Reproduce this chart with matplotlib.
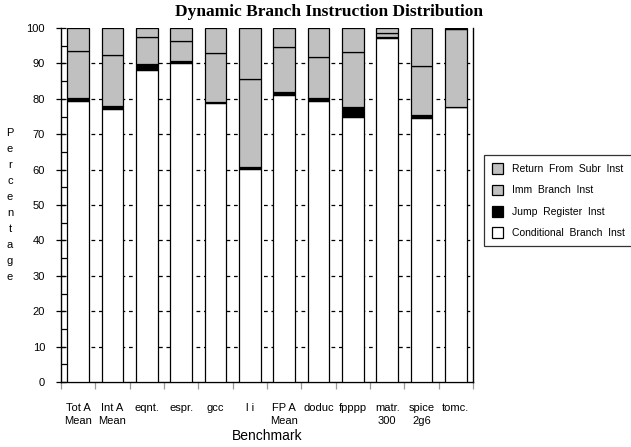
import matplotlib
matplotlib.use("Agg")
import matplotlib.pyplot as plt
import numpy as np
from matplotlib.ticker import MultipleLocator, FixedLocator

categories = ["Tot A\nMean", "Int A\nMean", "eqnt.", "espr.", "gcc", "l i",
              "FP A\nMean", "doduc", "fpppp", "matr.\n300", "spice\n2g6", "tomc."]
cond_branch = [79.3, 77.2, 88.1, 90.1, 78.7, 60.3, 81.1, 79.3, 75.0, 97.3, 74.6, 77.6]
jump_reg    = [0.8, 0.9, 1.8, 0.7, 0.3, 0.5, 0.7, 0.8, 2.8, 0.1, 0.8, 0.0]
imm_branch  = [13.4, 14.2, 7.6, 5.4, 13.9, 24.8, 12.8, 11.8, 15.4, 1.3, 14.0, 22.2]
ret_subr    = [100 - a - b - c for a, b, c in zip(cond_branch, jump_reg, imm_branch)]

plt.rcParams['font.family'] = ['Liberation Sans', 'DejaVu Sans']

fig = plt.figure(figsize=(6.31, 4.47), dpi=100)
ax = fig.add_axes([61/631, 1-382/447, (473-61)/631, (382-28)/447])

x = np.arange(len(categories))
w = 0.64
ec = dict(edgecolor='black', linewidth=0.9, zorder=3)
b1 = ax.bar(x, cond_branch, w, color='white', **ec, label='Conditional  Branch  Inst')
bottom = np.array(cond_branch)
b2 = ax.bar(x, jump_reg, w, bottom=bottom, color='black', **ec, label='Jump  Register  Inst')
bottom = bottom + np.array(jump_reg)
b3 = ax.bar(x, imm_branch, w, bottom=bottom, color='#c0c0c0', **ec, label='Imm  Branch  Inst')
bottom = bottom + np.array(imm_branch)
b4 = ax.bar(x, ret_subr, w, bottom=bottom, color='#c0c0c0', **ec, label='Return  From  Subr  Inst')

for yv in range(10, 100, 10):
    ax.axhline(yv, color='black', linestyle=(0, (3, 3)), linewidth=0.9, zorder=1)

ax.set_xlim(-0.5, len(categories) - 0.5)
ax.set_ylim(0, 100)
ax.spines['top'].set_visible(False)
ax.spines['right'].set_visible(True)
for s in ax.spines.values():
    s.set_linewidth(1.0)

ax.yaxis.set_major_locator(MultipleLocator(10))
ax.yaxis.set_minor_locator(MultipleLocator(5))
ax.tick_params(axis='y', which='major', direction='inout', length=7, width=0.9, labelsize=8, pad=8)
ax.tick_params(axis='y', which='minor', direction='in', length=4, width=0.9)
ax.set_xticks(x)
ax.set_xticklabels(categories, fontsize=8, linespacing=1.45)
ax.tick_params(axis='x', which='major', length=0, pad=15)
ax.xaxis.set_minor_locator(FixedLocator(np.arange(-0.5, len(categories), 1.0)))
ax.tick_params(axis='x', which='minor', direction='out', length=5, width=0.9, color='#999999')

fig.text(267/631, 1-436/447, 'Benchmark', ha='center', va='center', fontsize=10)
fig.text(10/631, 1-205/447, "\n".join("Percentage"), ha='center', va='center',
         fontsize=8, linespacing=1.75)
fig.text(329/631, 1-12/447, 'Dynamic Branch Instruction Distribution',
         ha='center', va='center', fontsize=12.5, fontweight='bold',
         family=['Liberation Serif', 'DejaVu Serif'])

handles = [b4, b3, b2, b1]
leg = fig.legend(handles=handles, labels=[h.get_label() for h in handles],
                 loc='upper left', bbox_to_anchor=(484/631, 1-155/447),
                 fontsize=7.5, frameon=True, fancybox=False, edgecolor='black',
                 handlelength=1.0, handleheight=1.2, handletextpad=0.85,
                 labelspacing=1.0, borderpad=0.8, borderaxespad=0)
leg.get_frame().set_linewidth(0.9)

fig.savefig('out.png', dpi=100)
